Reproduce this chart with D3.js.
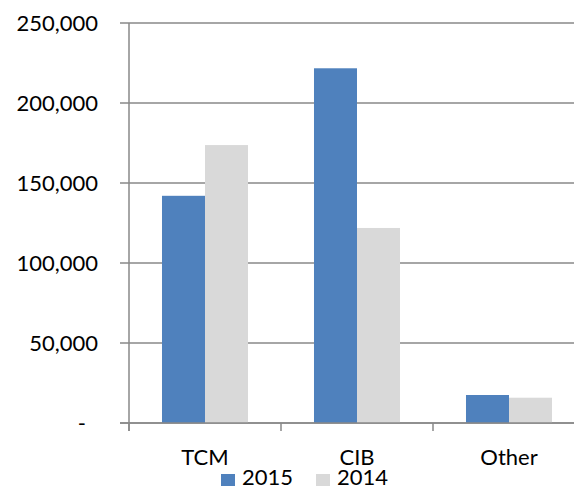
<!DOCTYPE html>
<meta charset="utf-8">
<style>
body { margin: 0; background: #fff; }
text { font-family: Lato, "Open Sans", sans-serif; fill: #000; font-size: 22px; }
.grid line { stroke: #898989; stroke-width: 1.5; }
</style>
<svg id="chart" width="574" height="488"></svg>
<script src="https://d3js.org/d3.v7.min.js"></script>
<script>
// chart data
var categories = ["TCM", "CIB", "Other"];
var seriesNames = ["2015", "2014"];
var values2015 = [142000, 221700, 17500];
var values2014 = [173700, 121900, 15800];
var yTicks = [0, 50000, 100000, 150000, 200000, 250000];
var colors = ["#4f81bd", "#d9d9d9"];

var svg = d3.select("#chart");

var x = d3.scaleBand()
    .domain(categories)
    .range([129, 585]);

var xInner = d3.scaleBand()
    .domain(seriesNames)
    .range([0, x.bandwidth()])
    .paddingOuter(0.767);

var y = d3.scaleLinear()
    .domain([0, 250000])
    .range([423, 23]);

var fmt = d3.format(",");

// gridlines + left ticks
var grid = svg.append("g").attr("class", "grid");
grid.selectAll("line")
    .data(yTicks)
    .enter()
    .append("line")
    .attr("x1", 120)
    .attr("x2", 585)
    .attr("y1", function(d) { return y(d); })
    .attr("y2", function(d) { return y(d); });

// y labels
svg.append("g").selectAll("text")
    .data(yTicks)
    .enter()
    .append("text")
    .attr("x", function(d) { return d === 0 ? 86 : 98; })
    .attr("y", function(d) { return y(d); })
    .attr("dy", "0.35em")
    .attr("text-anchor", "end")
    .text(function(d) { return d === 0 ? "-" : fmt(d); });

// bars
var rows = categories.map(function(c, i) {
  return { cat: c, vals: [values2015[i], values2014[i]] };
});

var groups = svg.append("g").selectAll("g")
    .data(rows)
    .enter()
    .append("g")
    .attr("transform", function(d) { return "translate(" + x(d.cat) + ",0)"; });

groups.selectAll("rect")
    .data(function(d) { return d.vals.map(function(v, i) { return { s: seriesNames[i], v: v, i: i }; }); })
    .enter()
    .append("rect")
    .attr("x", function(d) { return xInner(d.s); })
    .attr("width", xInner.bandwidth())
    .attr("y", function(d) { return y(d.v); })
    .attr("height", function(d) { return y(0) - y(d.v); })
    .attr("fill", function(d) { return colors[d.i]; });

// axes lines drawn over bars
svg.append("line")
    .attr("x1", 129).attr("x2", 129)
    .attr("y1", y(250000)).attr("y2", 431)
    .attr("stroke", "#898989").attr("stroke-width", 1.5);

svg.append("line")
    .attr("x1", 120).attr("x2", 585)
    .attr("y1", y(0)).attr("y2", y(0))
    .attr("stroke", "#898989").attr("stroke-width", 1.5);

// category ticks
svg.append("g").selectAll("line")
    .data(categories.concat(["end"]))
    .enter()
    .append("line")
    .attr("x1", function(d, i) { return 129 + i * x.step(); })
    .attr("x2", function(d, i) { return 129 + i * x.step(); })
    .attr("y1", y(0))
    .attr("y2", 431)
    .attr("stroke", "#898989").attr("stroke-width", 1.5);

// category labels
svg.append("g").selectAll("text")
    .data(categories)
    .enter()
    .append("text")
    .attr("x", function(d) { return x(d) + x.bandwidth() / 2; })
    .attr("y", 465)
    .attr("text-anchor", "middle")
    .text(function(d) { return d; });

// legend
var legendX = [221, 316];
var legend = svg.append("g").selectAll("g")
    .data(seriesNames)
    .enter()
    .append("g")
    .attr("transform", function(d, i) { return "translate(" + legendX[i] + ",0)"; });

legend.append("rect")
    .attr("x", 0).attr("y", 474)
    .attr("width", 14).attr("height", 12)
    .attr("fill", function(d, i) { return colors[i]; });

legend.append("text")
    .attr("x", 21)
    .attr("y", 485)
    .text(function(d) { return d; });
</script>
